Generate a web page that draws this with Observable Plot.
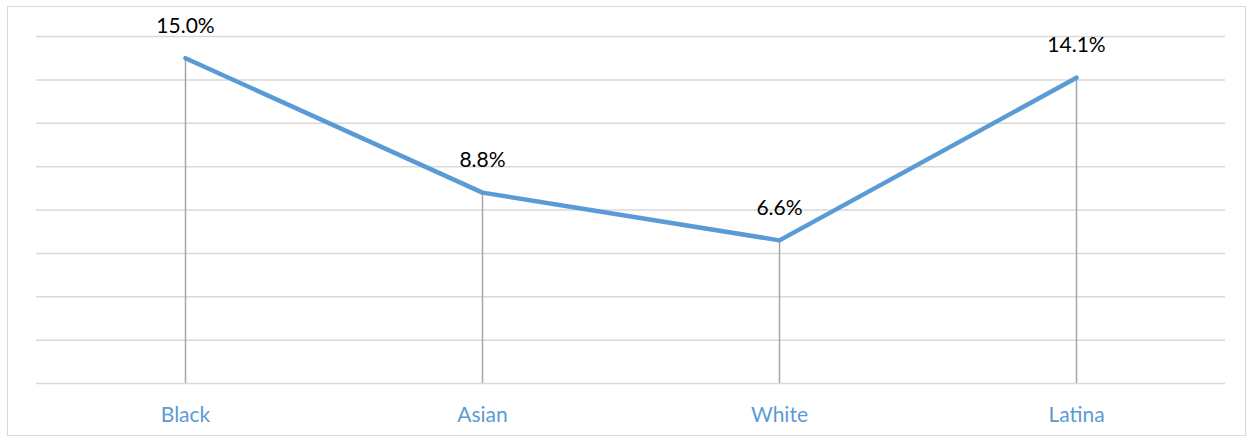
<!DOCTYPE html>
<html>
<head>
<meta charset="utf-8">
<script src="https://cdn.jsdelivr.net/npm/d3@7"></script>
<script src="https://cdn.jsdelivr.net/npm/@observablehq/plot@0.6"></script>
<style>
  html, body { margin: 0; padding: 0; background: #fff; }
  #wrap { position: relative; width: 1250px; height: 440px; overflow: hidden; }
  #border { position: absolute; left: 7px; top: 6px; width: 1239px; height: 430px; border: 1.5px solid #d9d9d9; box-sizing: border-box; pointer-events: none; }
  #chart { position: absolute; left: 0; top: 0; }
</style>
</head>
<body>
<div id="wrap">
  <div id="chart"></div>
  <div id="border"></div>
</div>
<script>
const categories = ["Black", "Asian", "White", "Latina"];
const values = [15.0, 8.8, 6.6, 14.1];
const gridTicks = [0, 2, 4, 6, 8, 10, 12, 14, 16];

const data = categories.map((c, i) => ({category: c, value: values[i]}));
const font = "Lato, 'Open Sans', sans-serif";

const chart = Plot.plot({
  width: 1250,
  height: 440,
  marginLeft: 36,
  marginRight: 25,
  marginTop: 36,
  marginBottom: 57,
  style: {fontFamily: font, background: "transparent"},
  x: {type: "point", domain: categories, padding: 0.5, label: null},
  y: {domain: [0, 16], axis: null},
  marks: [
    Plot.ruleY(gridTicks, {stroke: "#d9d9d9", strokeWidth: 1.5}),
    Plot.ruleX(data, {x: "category", y1: 0, y2: "value", stroke: "#a6a6a6", strokeWidth: 1.5}),
    Plot.line(data, {x: "category", y: "value", stroke: "#5b9bd5", strokeWidth: 4.5, strokeLinejoin: "round", strokeLinecap: "round"}),
    Plot.text(data, {x: "category", y: "value", text: d => d.value.toFixed(1) + "%", dy: -32, fontSize: 21, fill: "#000"}),
    Plot.axisX({tickSize: 0, tickPadding: 24, fontSize: 21, fill: "#5b9bd5", label: null})
  ]
});
document.getElementById("chart").appendChild(chart);
</script>
</body>
</html>
